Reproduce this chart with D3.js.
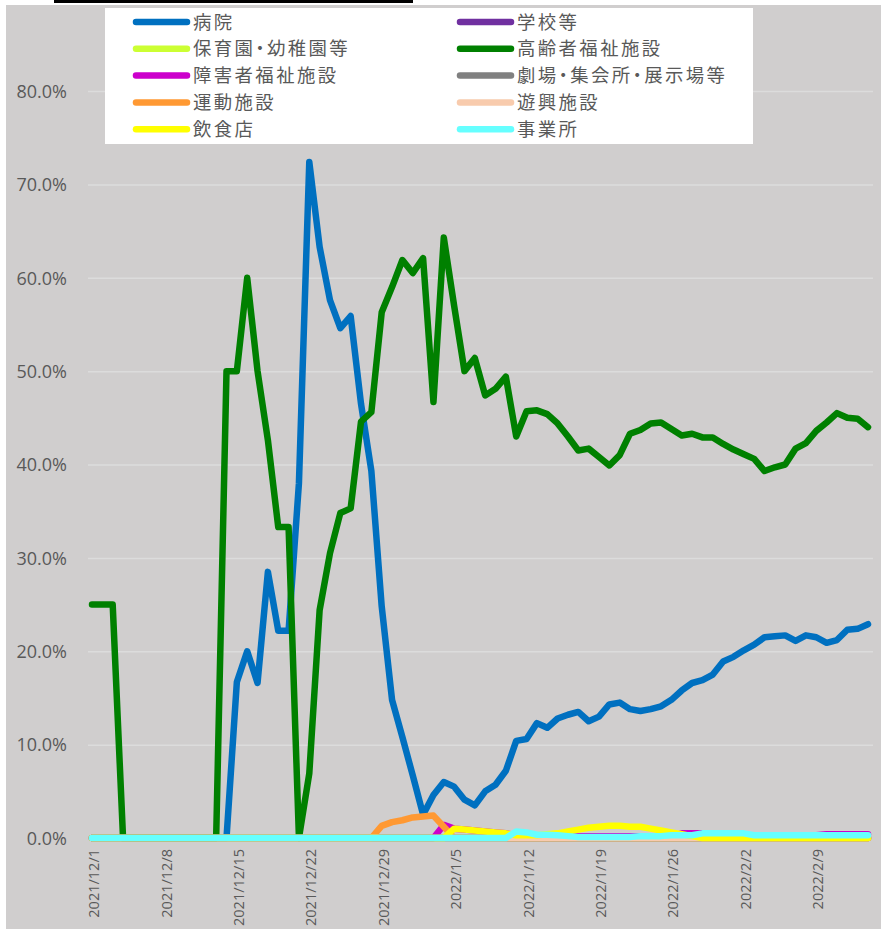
<!DOCTYPE html>
<html><head><meta charset="utf-8">
<script src="https://cdn.jsdelivr.net/npm/d3@7"></script>
<style>html,body{margin:0;padding:0;background:#fff;}svg{display:block;}.lgt{font-feature-settings:"palt";}</style>
</head><body>
<svg id="chart" width="881" height="930"></svg>
<script>
// ---- data ----
const startDate = "2021-12-01";
const dayCount = 76;
const seriesNames = ["病院","学校等","保育園・幼稚園等","高齢者福祉施設","障害者福祉施設","劇場・集会所・展示場等","運動施設","遊興施設","飲食店","事業所"];
const seriesColors = ["#0070c0","#7030a0","#ccff33","#008000","#cc00cc","#808080","#ff9933","#f8cbad","#ffff00","#66ffff"];
const zeros76 = new Array(76).fill(0);
const hospital = [0,0,0,0,0,0,0,0,0,0, 0,0,0,0,16.7,20.0,16.6,28.5,22.2,22.2,
  38,72.4,63.3,57.6,54.6,55.9,46.5,39.3,24.8,14.8, 10.8,6.7,2.5,4.6,6.0,5.5,4.1,3.5,5.0,5.7,
  7.2,10.4,10.6,12.3,11.8,12.8,13.2,13.5,12.5,13.0, 14.3,14.5,13.8,13.6,13.8,14.1,14.8,15.8,16.6,16.9,
  17.5,18.9,19.4,20.1,20.7,21.5,21.6,21.7,21.1,21.7, 21.5,20.9,21.2,22.3,22.4,22.9];
const school = zeros76.slice();
const nursery = zeros76.slice();
const elderly = [25,25,25,0,0,0,0,0,0,0, 0,0,0,50,50,60,50,42.6,33.3,33.3,
  0,6.9,24.4,30.5,34.8,35.3,44.6,45.6,56.3,59.0, 61.9,60.5,62.1,46.7,64.3,57.0,50.0,51.4,47.4,48.1,
  49.4,43.0,45.7,45.8,45.4,44.4,43.0,41.5,41.7,40.8, 39.9,41.0,43.3,43.7,44.4,44.5,43.8,43.1,43.3,42.9,
  42.9,42.2,41.6,41.1,40.6,39.3,39.7,40.0,41.7,42.3, 43.6,44.5,45.5,45.0,44.9,44.0];
const disabled = [0,0,0,0,0,0,0,0,0,0, 0,0,0,0,0,0,0,0,0,0,
  0,0,0,0,0,0,0,0,0,0, 0,0,0,0,1.4,1.0,0.9,0.8,0.7,0.6,
  0.5,0.3,0.2,0.2,0.2,0.2,0.2,0.2,0.2,0.2, 0.2,0.2,0.2,0.2,0.2,0.2,0.2,0.5,0.5,0.5,
  0.5,0.3,0.3,0.3,0.3,0.3,0.3,0.3,0.3,0.3, 0.3,0.4,0.4,0.4,0.4,0.4];
const theater = zeros76.slice();
const sports = [0,0,0,0,0,0,0,0,0,0, 0,0,0,0,0,0,0,0,0,0,
  0,0,0,0,0,0,0,0,1.3,1.7, 1.9,2.2,2.3,2.4,1.2,0,0,0,0,0,
  0,0,0,0,0,0,0,0,0,0, 0,0,0,0,0,0,0,0,0,0,
  0,0,0,0,0,0,0,0,0,0, 0,0,0,0,0,0];
const amusement = zeros76.slice();
const restaurant = [0,0,0,0,0,0,0,0,0,0, 0,0,0,0,0,0,0,0,0,0,
  0,0,0,0,0,0,0,0,0,0, 0,0,0,0,0,1.0,0.9,0.8,0.7,0.6,
  0.5,0.3,0.3,0.3,0.4,0.5,0.7,0.9,1.1,1.2, 1.3,1.3,1.2,1.2,1.0,0.8,0.6,0.4,0.2,0,
  0,0,0,0,0,0,0,0,0,0, 0,0,0,0,0,0];
const office = [0,0,0,0,0,0,0,0,0,0, 0,0,0,0,0,0,0,0,0,0,
  0,0,0,0,0,0,0,0,0,0, 0,0,0,0,0,0,0,0,0,0,
  0,0.7,0.6,0.35,0.35,0.3,0.2,0.1,0.1,0.1, 0.1,0.1,0.1,0.2,0.2,0.2,0.3,0.3,0.3,0.5,
  0.5,0.5,0.5,0.5,0.3,0.3,0.3,0.3,0.3,0.3, 0.3,0.3,0.3,0.3,0.3,0.3];
const seriesValues = [hospital,school,nursery,elderly,disabled,theater,sports,amusement,restaurant,office];
const yTicks = [0,0.1,0.2,0.3,0.4,0.5,0.6,0.7,0.8];
const xTickDates = ["2021-12-01","2021-12-08","2021-12-15","2021-12-22","2021-12-29","2022-01-05","2022-01-12","2022-01-19","2022-01-26","2022-02-02","2022-02-09"];

// ---- drawing ----
const parse = d3.timeParse("%Y-%m-%d");
const d0 = parse(startDate);
const dates = d3.range(dayCount).map(i => d3.timeDay.offset(d0, i));
const svg = d3.select("#chart");

svg.append("rect").attr("x",6).attr("y",5).attr("width",875).attr("height",924).attr("fill","#d0cece");
svg.append("rect").attr("x",54).attr("y",0).attr("width",359).attr("height",3).attr("fill","#000");

const x = d3.scaleTime().domain([dates[0], dates[dayCount-1]]).range([92, 868]);
const y = d3.scaleLinear().domain([0, 0.8]).range([838, 91]);

// gridlines
const grid = svg.append("g").attr("transform","translate(88,0)")
  .call(d3.axisLeft(y).tickValues(yTicks.slice(1)).tickSize(-785).tickFormat(""));
grid.select(".domain").remove();
grid.selectAll("line").attr("stroke","#dcdcdc").attr("stroke-width",1.5);

// y axis labels
const ya = svg.append("g").attr("transform","translate(67,0)")
  .call(d3.axisLeft(y).tickValues(yTicks).tickSize(0).tickPadding(0).tickFormat(d3.format(".1%")));
ya.select(".domain").remove();
ya.selectAll("text").attr("font-family","'Open Sans', sans-serif").attr("font-size","18px").attr("fill","#595959").attr("dy","0.35em");

// x axis labels
const fmt = d => `${d.getFullYear()}/${d.getMonth()+1}/${d.getDate()}`;
const xa = svg.append("g").attr("transform","translate(0,849)")
  .call(d3.axisBottom(x).tickValues(xTickDates.map(parse)).tickSize(0).tickPadding(0).tickFormat(fmt));
xa.select(".domain").remove();
xa.selectAll("text")
  .attr("font-family","'Open Sans', sans-serif").attr("font-size","14.5px").attr("fill","#595959")
  .attr("text-anchor","end").attr("dy","0.35em").attr("y",0).attr("dx","0")
  .attr("transform","rotate(-90) translate(0,1.5)");

// lines
const line = d3.line().x((d,i) => x(dates[i])).y(d => y(d/100));
const lg = svg.append("g");
seriesValues.forEach((vals, k) => {
  lg.append("path").datum(vals).attr("d", line)
    .attr("fill","none").attr("stroke", seriesColors[k]).attr("stroke-width",6.5)
    .attr("stroke-linejoin","round").attr("stroke-linecap","round");
});

// legend
const leg = svg.append("g");
leg.append("rect").attr("x",105).attr("y",8).attr("width",648).attr("height",136).attr("fill","#fff");
seriesNames.forEach((name, k) => {
  const col = k % 2, row = Math.floor(k / 2);
  const lx = col === 0 ? 136 : 460;
  const ly = 22 + row * 26.8;
  leg.append("line").attr("x1", lx).attr("x2", lx + 51).attr("y1", ly).attr("y2", ly)
    .attr("stroke", seriesColors[k]).attr("stroke-width", 6.5).attr("stroke-linecap","round");
  leg.append("text").attr("class","lgt").attr("x", lx + 57).attr("y", ly).attr("dy","0.36em")
    .attr("font-family","'Noto Sans CJK JP', sans-serif").attr("font-size","18.4px")
    .attr("letter-spacing","2.4px")
    .attr("fill","#595959").text(name);
});
</script>
</body></html>
